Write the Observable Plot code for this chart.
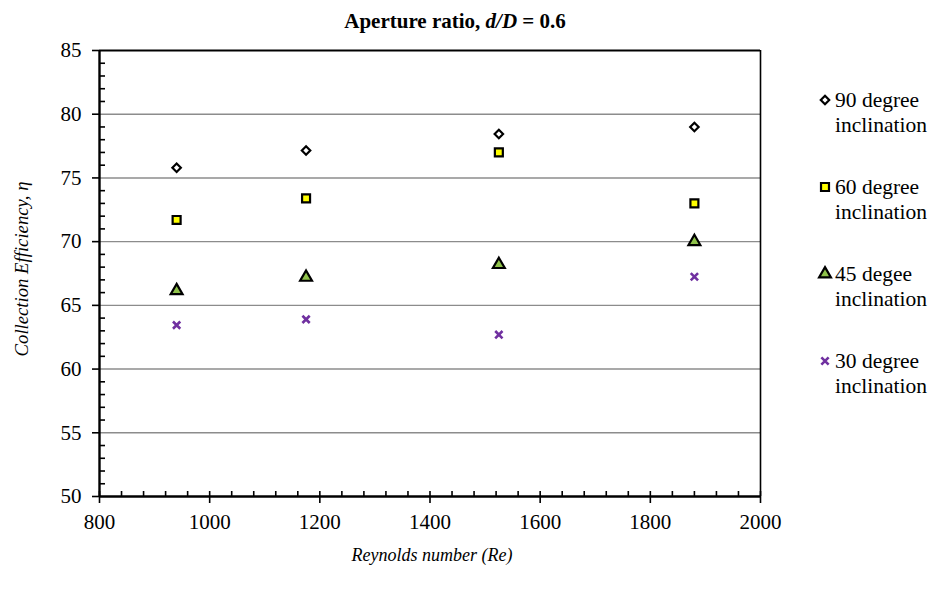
<!DOCTYPE html>
<html>
<head>
<meta charset="utf-8">
<script src="https://cdn.jsdelivr.net/npm/d3@7"></script>
<script src="https://cdn.jsdelivr.net/npm/@observablehq/plot@0.6"></script>
<style>
  html, body { margin: 0; padding: 0; background: #fff; }
  #wrap { position: relative; width: 941px; height: 592px; font-family: "Liberation Serif", "Times New Roman", serif; color: #000; }
  #wrap svg.plot { position: absolute; left: 0; top: 0; }
  #title { position: absolute; left: 0; width: 910px; top: 9px; text-align: center; font-weight: bold; font-size: 21px; line-height: 24px; }
  #xlabel { position: absolute; left: 0; width: 864px; top: 544px; text-align: center; font-style: italic; font-size: 18px; line-height: 22px; }
  #ylabel { position: absolute; left: 22px; top: 269px; transform: translate(-50%, -50%) rotate(-90deg); white-space: nowrap; font-style: italic; font-size: 18.7px; line-height: 22px; }
  #legend { position: absolute; left: 816px; top: 0; }
  .entry { position: absolute; left: 0; width: 125px; font-size: 21.5px; line-height: 24.5px; white-space: nowrap; }
  .entry svg { position: absolute; left: 0; top: 3px; }
  .entry span { position: absolute; left: 19px; top: 0; }
</style>
</head>
<body>
<div id="wrap">
  <div id="title">Aperture ratio, <i>d/D</i> = 0.6</div>
  <div id="ylabel">Collection Efficiency, η</div>
  <div id="xlabel">Reynolds number (Re)</div>
  <div id="legend"></div>
</div>
<script>
// Reynolds numbers tested
const reynolds = [940, 1175, 1525, 1880];

// Collection efficiency (%) for each nozzle inclination
const eff90 = [75.8, 77.15, 78.45, 79.0];
const eff60 = [71.7, 73.4, 77.0, 73.0];
const eff45 = [66.15, 67.2, 68.2, 70.0];
const eff30 = [63.45, 63.9, 62.7, 67.25];

// Series names as shown in the legend
const seriesNames = ["90 degree inclination", "60 degree inclination", "45 degee inclination", "30 degree inclination"];

// Axis ticks
const xMajor = [800, 1000, 1200, 1400, 1600, 1800, 2000];
const xMinor = d3.range(840, 2000, 40).filter(v => v % 200 !== 0);
const yMajor = [50, 55, 60, 65, 70, 75, 80, 85];
const yMinor = d3.range(51, 85, 1).filter(v => v % 5 !== 0);
const yGrid = [55, 60, 65, 70, 75, 80];

// Marker appearance per series
const styles = [
  {symbol: "diamond2", fill: "#ffffff", stroke: "#000000", strokeWidth: 2.2, r: 3.8},
  {symbol: "square", fill: "#ffff00", stroke: "#000000", strokeWidth: 2.2, r: 4.5},
  {symbol: "triangle", fill: "#8fc24a", stroke: "#000000", strokeWidth: 2.2, r: 4.4},
  {symbol: "times", fill: "none", stroke: "#7030a0", strokeWidth: 2.6, r: 3.4}
];

const seriesValues = [eff90, eff60, eff45, eff30];
const seriesRows = seriesValues.map(vals => reynolds.map((re, i) => ({re, eff: vals[i]})));

const W = 941, H = 592;
const mL = 99, mR = 181, mT = 50, mB = 96;
const plotW = W - mL - mR, plotH = H - mT - mB;

const chart = Plot.plot({
  width: W,
  height: H,
  marginLeft: mL,
  marginRight: mR,
  marginTop: mT,
  marginBottom: mB,
  style: {fontFamily: "Liberation Serif, Times New Roman, serif", fontSize: "21px", color: "#000", background: "transparent", overflow: "visible"},
  x: {domain: [800, 2000]},
  y: {domain: [50, 85]},
  marks: [
    // horizontal gridlines
    Plot.ruleY(yGrid, {stroke: "#8c8c8c", strokeWidth: 1.4}),
    // frame: top and right edges
    Plot.ruleY([85], {stroke: "#000", strokeWidth: 2}),
    Plot.ruleX([2000], {stroke: "#000", strokeWidth: 1.6}),
    // inner minor ticks
    Plot.tickY(yMinor, {stroke: "#000", strokeWidth: 1.6, insetRight: plotW - 6}),
    Plot.tickX(xMinor, {stroke: "#000", strokeWidth: 1.6, insetTop: plotH - 5}),
    // major x ticks cross into the plot
    Plot.tickX(xMajor, {stroke: "#000", strokeWidth: 1.6, insetTop: plotH - 5}),
    // axes
    Plot.axisY({ticks: yMajor, tickSize: 7, tickPadding: 11, tickFormat: d => String(d), strokeWidth: 1.6, label: null, fontSize: 21}),
    Plot.axisX({ticks: xMajor, tickSize: 7, tickPadding: 11, tickFormat: d => String(d), strokeWidth: 1.6, label: null, fontSize: 21}),
    // axis lines
    Plot.ruleX([800], {stroke: "#000", strokeWidth: 2.4}),
    Plot.ruleY([50], {stroke: "#000", strokeWidth: 2.4}),
    // data points
    ...seriesRows.map((rows, k) => Plot.dot(rows, {x: "re", y: "eff", ...styles[k]}))
  ]
});
chart.classList.add("plot");
document.getElementById("wrap").prepend(chart);

// Legend: marker plus two-line label for each series
const legend = d3.select("#legend");
const entryTops = [88, 175, 262, 349];
const symbolTypes = {diamond2: d3.symbolDiamond2, square: d3.symbolSquare, triangle: d3.symbolTriangle, times: d3.symbolTimes};
seriesNames.forEach((name, k) => {
  const st = styles[k];
  const entry = legend.append("div").attr("class", "entry").style("top", entryTops[k] + "px");
  const svg = entry.append("svg").attr("width", 18).attr("height", 18);
  svg.append("path")
    .attr("transform", "translate(9,9)")
    .attr("d", d3.symbol(symbolTypes[st.symbol], Math.PI * st.r * st.r)())
    .attr("fill", st.fill)
    .attr("stroke", st.stroke)
    .attr("stroke-width", st.strokeWidth);
  const words = name.split(" ");
  entry.append("span").html(words.slice(0, 2).join(" ") + "<br>" + words.slice(2).join(" "));
});
</script>
</body>
</html>
